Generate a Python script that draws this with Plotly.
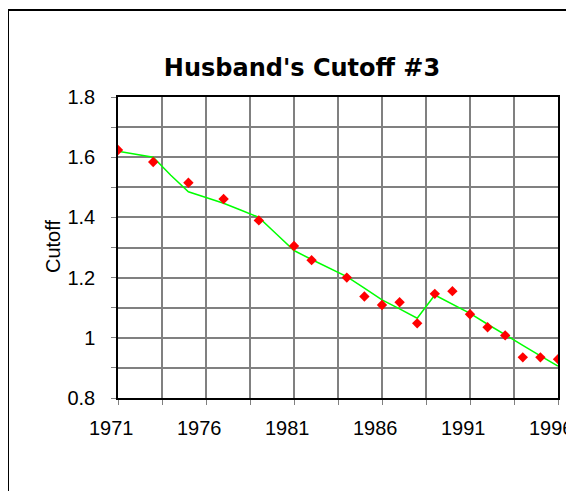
"""Husband's Cutoff #3"""

import plotly.graph_objects as go

# donnees
years = [1971, 1973, 1975, 1977, 1979, 1981, 1982, 1984, 1985, 1986, 1987,
         1988, 1989, 1990, 1991, 1992, 1993, 1994, 1995, 1996]
cutoff = [1.624, 1.584, 1.515, 1.461, 1.390, 1.305, 1.258, 1.200, 1.137, 1.109,
          1.118, 1.048, 1.146, 1.155, 1.078, 1.035, 1.008, 0.935, 0.935, 0.929]

fit_years = list(range(1971, 1997))
fit_values = [1.620, 1.610, 1.600, 1.540, 1.485, 1.466, 1.447, 1.424, 1.400,
              1.345, 1.290, 1.260, 1.232, 1.203, 1.165, 1.126, 1.096, 1.065,
              1.142, 1.111, 1.081, 1.045, 1.009, 0.975, 0.940, 0.906]

x_labels = [1971, 1976, 1981, 1986, 1991, 1996]

# la page a une marge de 8 px : on reduit la figure pour eviter les barres de defilement
W, H = 566, 483
L, R, T, B = 110, 16, 89, 93
pw, ph = W - L - R, H - T - B


def px(x):
    return (x - L) / pw


def py(y):
    return (H - B - y) / ph


fig = go.Figure()
fig.add_trace(go.Scatter(x=fit_years, y=fit_values, mode="lines",
                         line=dict(color="#00ff00", width=1.5)))
fig.add_trace(go.Scatter(x=years, y=cutoff, mode="markers",
                         marker=dict(color="#ff0000", size=8, symbol="diamond")))

axe = dict(showgrid=True, gridcolor="#808080", gridwidth=1.5,
           showline=True, linecolor="black", linewidth=1.5, mirror=True,
           ticks="outside", ticklen=5, tickcolor="#808080", zeroline=False,
           tickfont=dict(size=20), automargin=False)

# etiquettes de l'axe x, un peu decalees vers la gauche comme dans Excel
annots = [dict(text=str(a), x=a, y=0, xref="x", yref="paper", showarrow=False,
               xanchor="center", yanchor="top", xshift=-7, yshift=-17,
               font=dict(size=20)) for a in x_labels]
annots.append(dict(text="Cutoff", textangle=-90, showarrow=False,
                   xref="paper", yref="paper", x=px(45), y=py(239),
                   xanchor="center", yanchor="middle", font=dict(size=20)))

fig.update_layout(
    width=W, height=H,
    margin=dict(l=L, r=R, t=T, b=B),
    paper_bgcolor="white", plot_bgcolor="white",
    showlegend=False,
    font=dict(family="Liberation Sans, Arial", color="black"),
    title=dict(text="<b>Husband's Cutoff #3</b>", x=294 / W, xanchor="center",
               y=1 - 60 / H, yanchor="middle",
               font=dict(size=24, family="DejaVu Sans")),
    xaxis=dict(range=[1971, 1996], tick0=1971, dtick=5, showticklabels=False,
               minor=dict(tick0=1971, dtick=2.5, showgrid=True, gridcolor="#808080",
                          gridwidth=1.5, ticks="outside", ticklen=5,
                          tickcolor="#808080"),
               **axe),
    yaxis=dict(range=[0.8, 1.8], tick0=0.8, dtick=0.2, tickformat="~g",
               ticklabelstandoff=12,
               minor=dict(tick0=0.8, dtick=0.1, showgrid=True, gridcolor="#808080",
                          gridwidth=1.5, ticks="outside", ticklen=5,
                          tickcolor="#808080"),
               **axe),
    annotations=annots,
    shapes=[
        dict(type="line", xref="paper", yref="paper", x0=px(0), x1=px(0),
             y0=py(2), y1=py(H + 10), line=dict(color="black", width=2)),
        dict(type="line", xref="paper", yref="paper", x0=px(0), x1=px(W + 10),
             y0=py(2), y1=py(2), line=dict(color="black", width=2)),
    ],
)

fig.write_html("out.html")
